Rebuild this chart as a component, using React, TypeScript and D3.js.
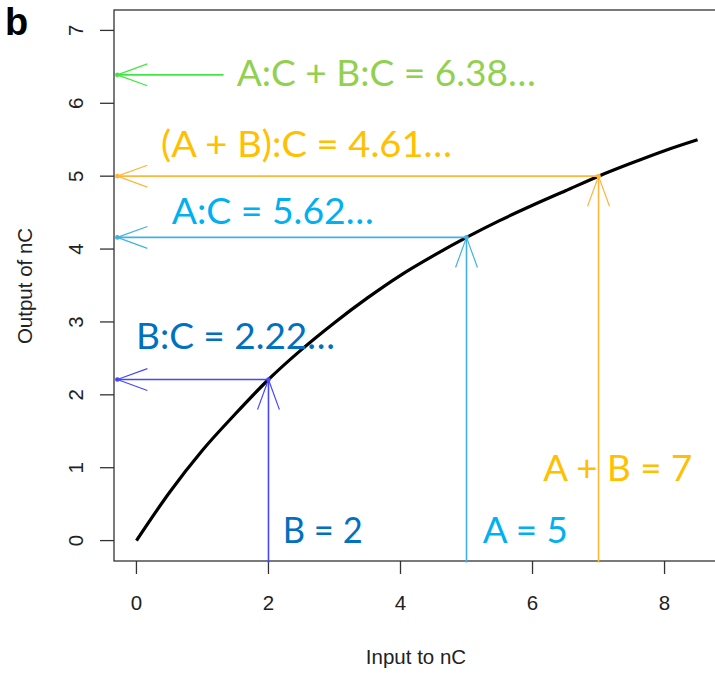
import * as d3 from "d3";
import React from "react";

// curve of nC
const curveX = [0, 0.5, 1, 1.5, 2, 2.5, 3, 3.5, 4, 4.5, 5, 5.5, 6, 6.5, 7, 7.5, 8, 8.5];
const curveY = [0, 0.66, 1.24, 1.74, 2.21, 2.62, 2.99, 3.33, 3.64, 3.91, 4.16, 4.39, 4.6, 4.8, 5.0, 5.18, 5.35, 5.5];

const xTicks = [0, 2, 4, 6, 8];
const yTicks = [0, 1, 2, 3, 4, 5, 6, 7];

// inputs and their outputs on the curve
const inputNames = ["B", "A", "A + B"];
const inputValues = [2, 5, 7];
const outputValues = [2.21, 4.16, 5.0];
const lineColors = ["#4646ff", "#40b2e2", "#fcb73c"];
const textColors = ["#0070c0", "#00b0f0", "#ffc000"];
const outputLabels = ["B:C = 2.22…", "A:C = 5.62…", "(A + B):C = 4.61…"];

const sumLabel = "A:C + B:C = 6.38…";
const sumValue = 6.39;
const sumTail = 1.32;
const arrowTipX = -0.29;
const arrowFloorY = -0.3;

const W = 715;
const H = 675;

const x = d3.scaleLinear().domain([-0.34, 8.84]).range([114, 720]);
const y = d3.scaleLinear().domain([-0.28, 7.28]).range([561, 10]);

function Arrow({ x0, y0, x1, y1, color }: { x0: number; y0: number; x1: number; y1: number; color: string }) {
  const len = 32;
  const ang = (20 * Math.PI) / 180;
  const a = Math.atan2(y1 - y0, x1 - x0);
  const h1 = [x1 - len * Math.cos(a - ang), y1 - len * Math.sin(a - ang)];
  const h2 = [x1 - len * Math.cos(a + ang), y1 - len * Math.sin(a + ang)];
  return (
    <g stroke={color} strokeWidth={1.6} fill="none">
      <line x1={x0} y1={y0} x2={x1} y2={y1} />
      <line x1={x1} y1={y1} x2={h1[0]} y2={h1[1]} strokeWidth={1.2} />
      <line x1={x1} y1={y1} x2={h2[0]} y2={h2[1]} strokeWidth={1.2} />
      <circle cx={x1} cy={y1} r={2.3} fill={color} stroke="none" />
    </g>
  );
}

// label layout: [x, baseline, width]
const outLabelPos = [
  [136, 349, 199],
  [171.7, 224.3, 202],
  [161, 157, 291],
];
const inLabelPos = [
  [282.7, 542.5, 80],
  [482.8, 542.5, 85],
  [543.3, 480.7, 149],
];

export default function App() {
  const pts = curveX.map((v, i) => [v, curveY[i]] as [number, number]);
  const path = d3
    .line<[number, number]>()
    .x((d) => x(d[0]))
    .y((d) => y(d[1]))
    .curve(d3.curveMonotoneX)(pts);

  const annFont = "Lato, 'Open Sans', sans-serif";
  const axFont = "'Liberation Sans', Arial, sans-serif";

  return (
    <svg width={W} height={H} style={{ position: "absolute", left: 0, top: 0, background: "#fff" }}>
      {/* box */}
      <rect x={114} y={10} width={606} height={551} fill="none" stroke="#333" strokeWidth={1.3} />

      {/* x axis */}
      {xTicks.map((t) => (
        <g key={"x" + t}>
          <line x1={x(t)} x2={x(t)} y1={561} y2={574} stroke="#333" strokeWidth={1.3} />
          <text x={x(t)} y={610} textAnchor="middle" fontFamily={axFont} fontSize={20.5} fill="#222">
            {t}
          </text>
        </g>
      ))}
      <text x={416} y={664} textAnchor="middle" fontFamily={axFont} fontSize={20.5} fill="#222">
        Input to nC
      </text>

      {/* y axis */}
      {yTicks.map((t) => (
        <g key={"y" + t}>
          <line x1={100} x2={114} y1={y(t)} y2={y(t)} stroke="#333" strokeWidth={1.3} />
          <text
            transform={`translate(83,${y(t)}) rotate(-90)`}
            textAnchor="middle"
            fontFamily={axFont}
            fontSize={20.5}
            fill="#222"
          >
            {t}
          </text>
        </g>
      ))}
      <text
        transform={`translate(32,286) rotate(-90)`}
        textAnchor="middle"
        fontFamily={axFont}
        fontSize={20.5}
        fill="#222"
      >
        Output of nC
      </text>

      {/* curve */}
      <path d={path || ""} fill="none" stroke="#000" strokeWidth={3.2} strokeLinejoin="round" />

      {/* arrows */}
      {inputValues.map((v, i) => (
        <g key={"a" + i}>
          <Arrow x0={x(v)} y0={y(arrowFloorY)} x1={x(v)} y1={y(outputValues[i])} color={lineColors[i]} />
          <Arrow x0={x(v)} y0={y(outputValues[i])} x1={x(arrowTipX)} y1={y(outputValues[i])} color={lineColors[i]} />
        </g>
      ))}
      <Arrow x0={x(sumTail)} y0={y(sumValue)} x1={x(arrowTipX)} y1={y(sumValue)} color="#3fe83f" />

      {/* labels */}
      {outputLabels.map((s, i) => (
        <text
          key={"ol" + i}
          x={outLabelPos[i][0]}
          y={outLabelPos[i][1]}
          textLength={outLabelPos[i][2]}
          lengthAdjust="spacingAndGlyphs"
          fontFamily={annFont}
          fontSize={36}
          fill={textColors[i]}
        >
          {s}
        </text>
      ))}
      {inputNames.map((s, i) => (
        <text
          key={"il" + i}
          x={inLabelPos[i][0]}
          y={inLabelPos[i][1]}
          textLength={inLabelPos[i][2]}
          lengthAdjust="spacingAndGlyphs"
          fontFamily={annFont}
          fontSize={36}
          fill={textColors[i]}
        >
          {`${s} = ${inputValues[i]}`}
        </text>
      ))}
      <text
        x={236.7}
        y={86}
        textLength={299}
        lengthAdjust="spacingAndGlyphs"
        fontFamily={annFont}
        fontSize={36}
        fill="#92d050"
      >
        {sumLabel}
      </text>

      <text x={5} y={35} fontFamily={axFont} fontWeight="bold" fontSize={38} fill="#000">
        b
      </text>
    </svg>
  );
}
